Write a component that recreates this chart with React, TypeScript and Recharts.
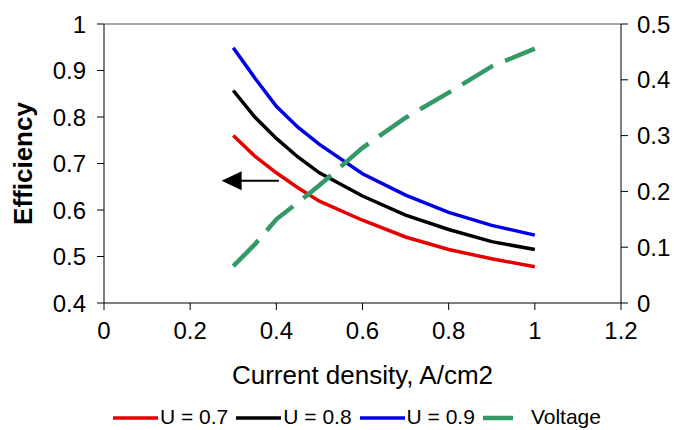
import React from 'react';
import { LineChart, Line, XAxis, YAxis, ReferenceLine, Legend } from 'recharts';

const currentDensity = [0.3, 0.35, 0.4, 0.45, 0.5, 0.6, 0.7, 0.8, 0.9, 1.0];
const effU07 = [0.76, 0.716, 0.68, 0.648, 0.619, 0.578, 0.542, 0.515, 0.495, 0.478];
const effU08 = [0.857, 0.8, 0.754, 0.714, 0.68, 0.63, 0.589, 0.558, 0.532, 0.515];
const effU09 = [0.949, 0.884, 0.823, 0.778, 0.741, 0.678, 0.632, 0.595, 0.567, 0.546];
const voltage = [0.066, 0.105, 0.15, 0.18, 0.211, 0.278, 0.332, 0.377, 0.424, 0.456];

const xTicks = [0, 0.2, 0.4, 0.6, 0.8, 1, 1.2];
const effTicks = [0.4, 0.5, 0.6, 0.7, 0.8, 0.9, 1];
const voltTicks = [0, 0.1, 0.2, 0.3, 0.4, 0.5];

const data = currentDensity.map((x, i) => ({
  x,
  u07: effU07[i],
  u08: effU08[i],
  u09: effU09[i],
  volt: voltage[i],
}));

const FONT = '"Liberation Sans", Arial, sans-serif';
const RED = '#e60000';
const BLUE = '#0000e6';
const GREEN = '#339966';

const legendItems = [
  { label: 'U = 0.7', color: RED, dash: undefined as string | undefined },
  { label: 'U = 0.8', color: '#000', dash: undefined },
  { label: 'U = 0.9', color: BLUE, dash: undefined },
  { label: 'Voltage', color: GREEN, dash: '30 20' },
];

const renderLegend = () => (
  <div style={{ display: 'flex', alignItems: 'center', height: 26, paddingLeft: 113, fontFamily: FONT, fontSize: 21, color: '#000' }}>
    {legendItems.map((item) => (
      <div key={item.label} style={{ display: 'flex', alignItems: 'center', marginRight: 8 }}>
        <svg width={45} height={26} style={{ marginRight: item.dash ? 3 : 2 }}>
          <line x1={0} y1={14} x2={45} y2={14} stroke={item.color} strokeWidth={item.dash ? 4.5 : 3.5} strokeDasharray={item.dash} />
        </svg>
        <span style={{ lineHeight: '26px' }}>{item.label}</span>
      </div>
    ))}
  </div>
);

// arrow pointing to the left axis
const ArrowShape = (props: any) => {
  const { x1, y1, x2, y2 } = props;
  const left = Math.min(x1, x2);
  const right = Math.max(x1, x2);
  const y = (y1 + y2) / 2;
  return (
    <g>
      <line x1={left + 19} y1={y} x2={right} y2={y} stroke="#000" strokeWidth={2} />
      <polygon points={`${left},${y} ${left + 20},${y - 9.5} ${left + 20},${y + 9.5}`} fill="#000" />
    </g>
  );
};

const fmt = (v: number) => String(v);

export default function App() {
  return (
    <div style={{ position: 'absolute', left: 0, top: 0, width: 676, height: 430, background: '#fff', fontFamily: FONT }}>
      <LineChart width={676} height={430} data={data} margin={{ top: 24, right: 0, left: 0, bottom: 0 }}>
        <XAxis
          dataKey="x"
          type="number"
          domain={[0, 1.2]}
          ticks={xTicks}
          tickFormatter={fmt}
          height={101}
          tickSize={7}
          tickMargin={12}
          stroke="#000"
          tick={{ fill: '#000', fontSize: 24, fontFamily: FONT }}
          label={{
            content: (p: any) => {
              const vb = p.viewBox;
              return (
                <text x={vb.x + vb.width / 2} y={vb.y + 81} textAnchor="middle" fontSize={26} fontFamily={FONT} fill="#000">
                  Current density, A/cm2
                </text>
              );
            },
          }}
        />
        <YAxis
          yAxisId="left"
          type="number"
          domain={[0.4, 1]}
          ticks={effTicks}
          tickFormatter={fmt}
          width={104}
          tickSize={7}
          tickMargin={11}
          stroke="#000"
          tick={{ fill: '#000', fontSize: 24, fontFamily: FONT }}
          label={{
            content: (p: any) => {
              const vb = p.viewBox;
              const cy = vb.y + vb.height / 2;
              return (
                <text x={32} y={cy} transform={`rotate(-90, 32, ${cy})`} textAnchor="middle" fontSize={26} fontWeight="bold" fontFamily={FONT} fill="#000">
                  Efficiency
                </text>
              );
            },
          }}
        />
        <YAxis
          yAxisId="right"
          orientation="right"
          type="number"
          domain={[0, 0.5]}
          ticks={voltTicks}
          tickFormatter={fmt}
          width={55}
          tickSize={7}
          tickMargin={9}
          stroke="#000"
          tick={{ fill: '#000', fontSize: 24, fontFamily: FONT }}
        />
        <ReferenceLine yAxisId="left" y={1} stroke="#888" strokeWidth={1.5} />
        <Legend verticalAlign="bottom" content={renderLegend} wrapperStyle={{ height: 26 }} />
        <Line yAxisId="left" type="linear" dataKey="u07" stroke={RED} strokeWidth={3.5} dot={false} isAnimationActive={false} />
        <Line yAxisId="left" type="linear" dataKey="u08" stroke="#000" strokeWidth={3.5} dot={false} isAnimationActive={false} />
        <Line yAxisId="left" type="linear" dataKey="u09" stroke={BLUE} strokeWidth={3.5} dot={false} isAnimationActive={false} />
        <Line yAxisId="right" type="linear" dataKey="volt" stroke={GREEN} strokeWidth={4.5} strokeDasharray="36 13" dot={false} isAnimationActive={false} />
        <ReferenceLine
          yAxisId="left"
          segment={[{ x: 0.406, y: 0.663 }, { x: 0.273, y: 0.663 }]}
          shape={ArrowShape}
        />
      </LineChart>
    </div>
  );
}
